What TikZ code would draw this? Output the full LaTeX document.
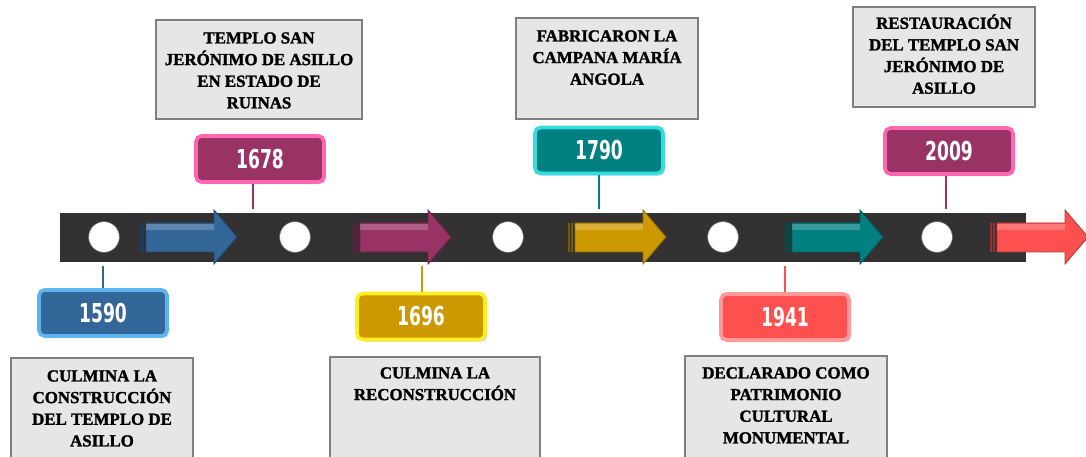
\documentclass[tikz,border=0pt]{standalone}
\usepackage{fontspec}
\setmainfont{Liberation Serif}[BoldFeatures={FakeBold=1.6}]
\newfontfamily\anio[FakeStretch=0.66]{DejaVu Sans}
\usetikzlibrary{shadows}

\definecolor{fondo}{HTML}{333132}
\definecolor{azul}{HTML}{336699}
\definecolor{azulclaro}{HTML}{5DB5F0}
\definecolor{magenta}{HTML}{993366}
\definecolor{rosa}{HTML}{FF66B2}
\definecolor{oro}{HTML}{CC9900}
\definecolor{amarillo}{HTML}{FFEE22}
\definecolor{verde}{HTML}{008080}
\definecolor{cian}{HTML}{33DEDE}
\definecolor{coral}{HTML}{FF5050}
\definecolor{salmon}{HTML}{FF9999}
\definecolor{gris}{HTML}{E6E6E6}
\definecolor{borde}{HTML}{7F7F7F}

\begin{document}
\begin{tikzpicture}[x=0.025cm,y=-0.025cm,
  barra/.style={fill=fondo, draw=white, line width=2.2pt, minimum width=24.2cm, minimum height=1.32cm,
    drop shadow={opacity=0.35, shadow xshift=0.8pt, shadow yshift=-0.8pt}},
  punto/.style={circle, fill=white, draw=black!60, line width=0.4pt, minimum size=0.77cm, inner sep=0},
  anio/.style={rounded corners=4pt, line width=2.6pt, minimum width=3.2cm, minimum height=1.15cm,
    text=white, font=\anio\bfseries\fontsize{18.5}{18.5}\selectfont,
    drop shadow={opacity=0.35, shadow xshift=1.5pt, shadow yshift=-1.5pt}},
  caja/.style={fill=gris, draw=borde, line width=1.2pt},
  texto/.style={anchor=north, align=center, inner sep=0, font=\bfseries\fontsize{12}{15.4}\selectfont},
  enlace/.style={line width=2.1pt}
]

\useasboundingbox (0,0) rectangle (1086,457);
\clip (0,0) rectangle (1086,457);

% barra de la linea de tiempo
\node[barra] (barra) at (543,237.5) {};

\node[punto] (p1) at (104,237) {};
\node[punto] (p2) at (295,237) {};
\node[punto] (p3) at (508,237) {};
\node[punto] (p4) at (723,237) {};
\node[punto] (p5) at (937,237) {};

% flechas
\foreach \x/\c in {146/azul, 360/magenta, 575/oro, 792/verde, 997/coral}{
  \fill[\c, draw=\c!70!black, line width=0.6pt] (\x,223) -- (\x+68,223) -- (\x+68,210) -- (\x+91,237)
    -- (\x+68,264) -- (\x+68,252) -- (\x,252) -- cycle;
  \fill[white, opacity=0.22] (\x,224) rectangle (\x+68,230);
  \draw[\c!60!black, line width=0.8pt] (\x-6,223) -- (\x-6,252) (\x-3,223) -- (\x-3,252);
}

% años
\node[anio, fill=azul, draw=azulclaro] (y1590) at (103,313) {1590};
\node[anio, fill=magenta, draw=rosa] (y1678) at (260,159) {1678};
\node[anio, fill=oro, draw=amarillo] (y1696) at (421,316.5) {1696};
\node[anio, fill=verde, draw=cian] (y1790) at (599,150.5) {1790};
\node[anio, fill=coral, draw=salmon] (y1941) at (785,317) {1941};
\node[anio, fill=magenta, draw=rosa] (y2009) at (949,151) {2009};

\coordinate (e1590) at (103,266);
\coordinate (e1678) at (253,209);
\coordinate (e1696) at (422,266);
\coordinate (e1790) at (599,209);
\coordinate (e1941) at (785,266);
\coordinate (e2009) at (946,209);

\draw[enlace, azul] (e1590) -- (e1590 |- y1590.north);
\draw[enlace, magenta] (e1678) -- (e1678 |- y1678.south);
\draw[enlace, oro] (e1696) -- (e1696 |- y1696.north);
\draw[enlace, verde] (e1790) -- (e1790 |- y1790.south);
\draw[enlace, coral] (e1941) -- (e1941 |- y1941.north);
\draw[enlace, magenta] (e2009) -- (e2009 |- y2009.south);

% cajas de texto
\draw[caja] (156,20) rectangle (362,119);
\draw[caja] (516,18) rectangle (698,119);
\draw[caja] (853,7) rectangle (1035,107);
\draw[caja] (11,358) rectangle (193,470);
\draw[caja] (330,357) rectangle (540,470);
\draw[caja] (685,356) rectangle (887,470);

\node[texto] (t1678) at (259,32) {TEMPLO SAN\\JERÓNIMO DE ASILLO\\EN ESTADO DE\\RUINAS};
\node[texto] (t1790) at (607,30) {FABRICARON LA\\CAMPANA MARÍA\\ANGOLA};
\node[texto] (t2009) at (944,14) {RESTAURACIÓN\\DEL TEMPLO SAN\\JERÓNIMO DE\\ASILLO};
\node[texto] (t1590) at (102,370) {CULMINA LA\\CONSTRUCCIÓN\\DEL TEMPLO DE\\ASILLO};
\node[texto] (t1696) at (435,367) {CULMINA LA\\RECONSTRUCCIÓN};
\node[texto] (t1941) at (786,367) {DECLARADO COMO\\PATRIMONIO\\CULTURAL\\MONUMENTAL};

\end{tikzpicture}
\end{document}
